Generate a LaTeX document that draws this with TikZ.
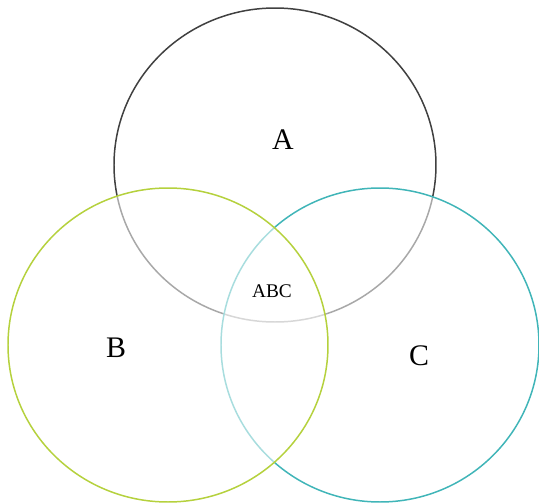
\documentclass[tikz,border=0pt]{standalone}
\usepackage{fontspec}
\setmainfont{Liberation Serif}
\usetikzlibrary{calc}
\definecolor{AClr}{rgb}{0.25,0.25,0.25}
\definecolor{BClr}{rgb}{0.71,0.82,0.24}
\definecolor{CClr}{rgb}{0.25,0.71,0.72}

\begin{document}
\begin{tikzpicture}[x=0.02cm,y=-0.02cm]
\tikzset{setring/.style={line width=0.85pt,fill=white,fill opacity=0.55,draw opacity=1}}
\useasboundingbox (0,0) rectangle (539,504);

\coordinate (OA) at (275,165);
\coordinate (OB) at (168,345);
\coordinate (OC) at (380,345);

\draw[setring,draw=AClr] (OA) ellipse [x radius=161,y radius=157];
\draw[setring,draw=CClr] (OC) ellipse [x radius=159,y radius=157];
\draw[setring,draw=BClr] (OB) ellipse [x radius=160,y radius=157];

\node[font=\fontsize{17}{20}\selectfont] (LA) at (283,140) {A};
\node[font=\fontsize{17}{20}\selectfont] (LB) at (116,348) {B};
\node[font=\fontsize{17}{20}\selectfont] (LC) at (419,356) {C};
\node[font=\fontsize{11}{13}\selectfont] (LABC) at (272,291) {ABC};

\end{tikzpicture}
\end{document}
